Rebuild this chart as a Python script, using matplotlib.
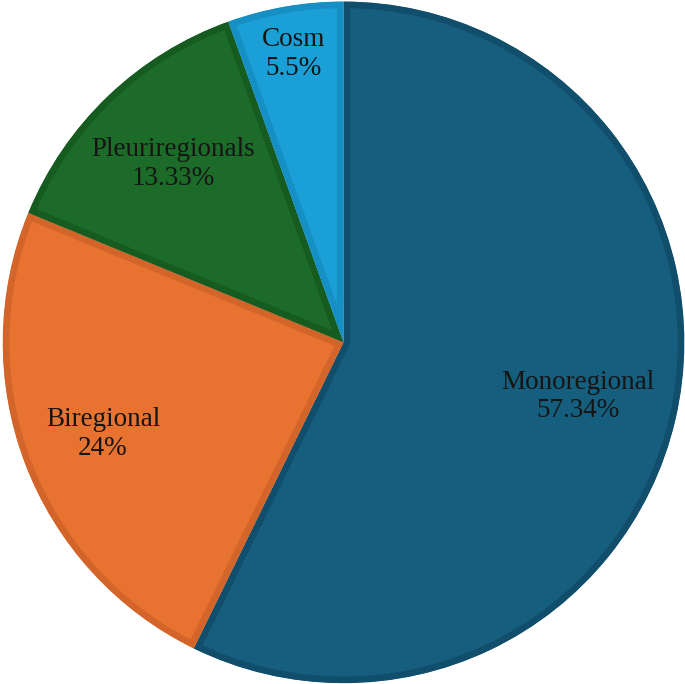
import numpy as np
import matplotlib.pyplot as plt

plt.rcParams['font.family'] = ['Liberation Serif', 'DejaVu Serif']

#%% data

categories = ['Monoregional', 'Biregional', 'Pleuriregionals', 'Cosm']
values = [57.34, 24, 13.33, 5.5]
value_labels = ['57.34%', '24%', '13.33%', '5.5%']

face_colors = ['#165e7e', '#e8722f', '#1c6b28', '#1b9fd7']
edge_colors = ['#114e6b', '#d4652a', '#165c20', '#1690c4']
label_dist = [0.705, 0.755, 0.725, 0.86]

#%% plot

fig = plt.figure(figsize=(6.85, 6.84), dpi=100)
ax = fig.add_axes([0, 0, 1, 1])

wedges, _ = ax.pie(values, colors=face_colors, startangle=90, counterclock=False,
                   radius=1.0, center=(0.003, -0.001))

for w, ec in zip(wedges, edge_colors):
    w.set_edgecolor(ec)
    w.set_linewidth(9.5)
    w.set_clip_path(w.get_path(), w.get_transform())  # only inner half of border
    w.set_clip_on(True)

for w, name, lab, d in zip(wedges, categories, value_labels, label_dist):
    ang = np.deg2rad((w.theta1 + w.theta2) / 2)
    cx, cy = w.center
    ax.text(cx + d * np.cos(ang), cy + d * np.sin(ang), f'{name}\n{lab}',
            ha='center', va='center', fontsize=19.5, color='#151515', linespacing=1.2)

ax.set_xlim(-1.005, 1.005)
ax.set_ylim(-1.003, 1.003)
ax.set_aspect('equal')
ax.axis('off')

plt.savefig('out.png', dpi=100)
plt.close()
